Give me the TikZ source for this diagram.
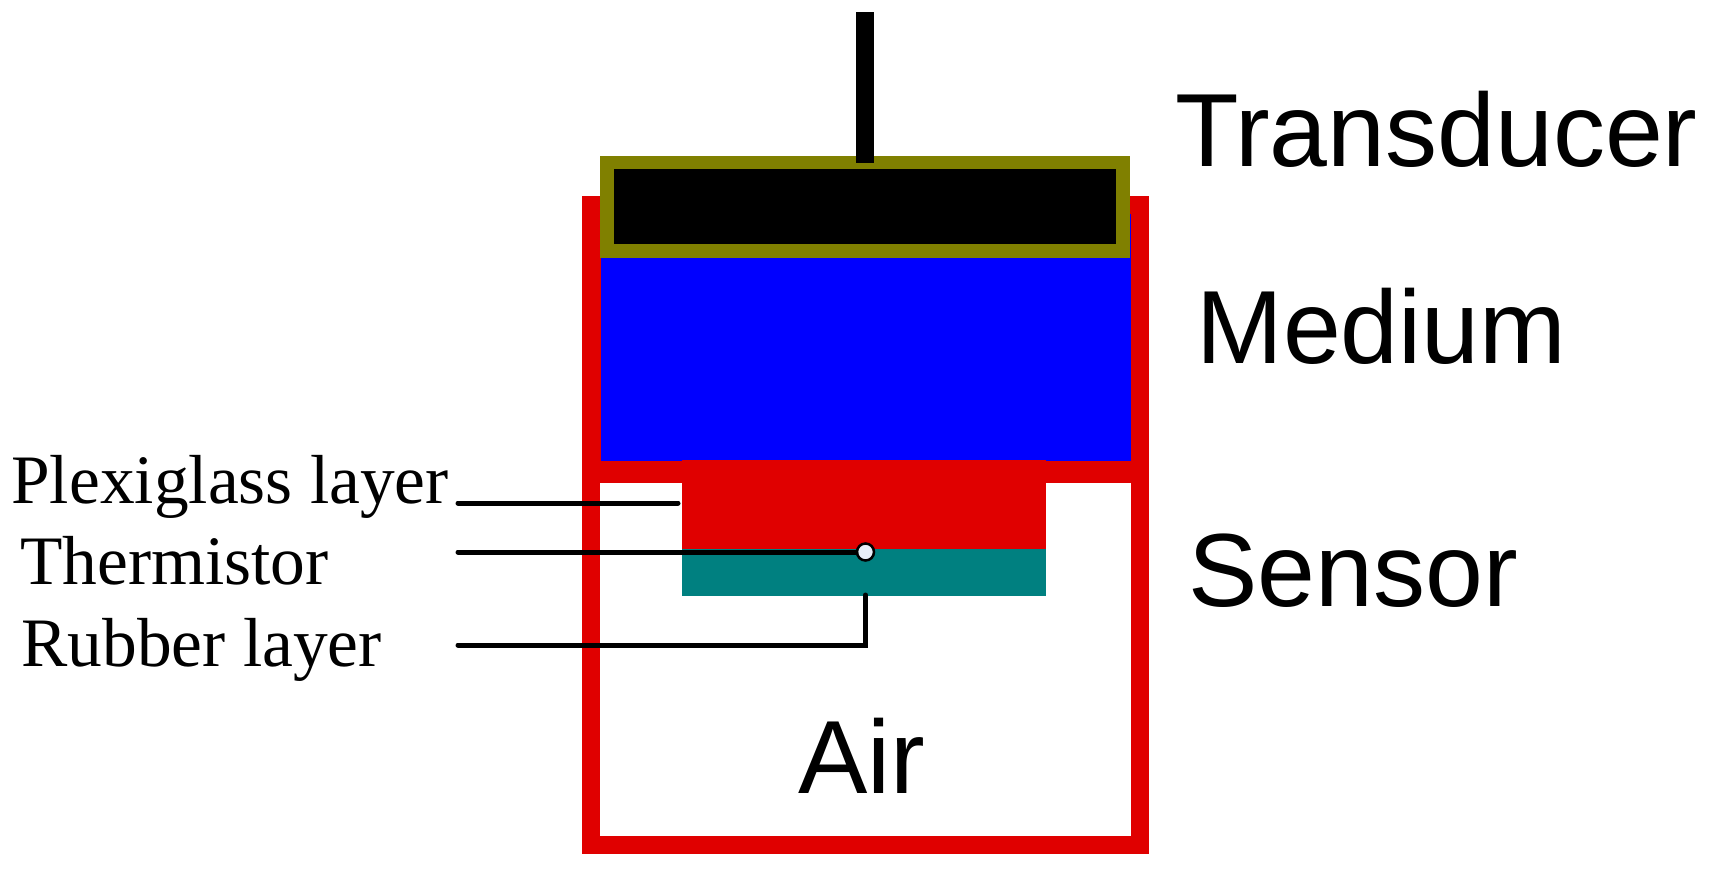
\documentclass[tikz,border=0pt]{standalone}
\usepackage{fontspec}
\setmainfont{Liberation Serif}
\setsansfont{Liberation Sans}
\usetikzlibrary{positioning}
\definecolor{sensor-red}{RGB}{224,0,0}
\definecolor{housing-olive}{RGB}{128,128,0}
\definecolor{medium-blue}{RGB}{0,0,255}
\definecolor{rubber-teal}{RGB}{0,128,128}
\definecolor{dot-white}{RGB}{232,238,248}
\tikzset{
	biglabel/.style={anchor=base west, inner sep=0pt, font=\sffamily\fontsize{59.2}{60}\selectfont},
	smalllabel/.style={anchor=base west, inner sep=0pt, font=\rmfamily\fontsize{39.5}{40}\selectfont},
	leader/.style={line width=0.1cm, line cap=round, black}
}
\begin{document}
\begin{tikzpicture}[x=0.02cm, y=-0.02cm]
	\useasboundingbox (0,0) rectangle (1715,895);
	% casing
	\fill[sensor-red] (582,196) rectangle (1149,854);
	\fill[white] (600,483) rectangle (1131,836);
	\fill[medium-blue] (601,214) rectangle (1131,461);
	% sensor stack
	\fill[sensor-red] (682,460) rectangle (1046,549);
	\fill[rubber-teal] (682,549) rectangle (1046,596);
	% transducer
	\fill[housing-olive] (600,156) rectangle (1130,258);
	\fill[black] (614,169) rectangle (1116,244);
	\fill[black] (856,12) rectangle (874,163);
	% labels
	\node[biglabel] (transducer) at (1175,167) {Transducer};
	\node[biglabel] (medium) at (1196,363) {Medium};
	\node[biglabel] (sensor) at (1188,606) {Sensor};
	\node[biglabel] (air) at (798,793) {Air};
	\node[smalllabel] (plexiglass) at (11,503) {Plexiglass layer};
	\node[smalllabel] (thermistor) at (20,584) {Thermistor};
	\node[smalllabel] (rubber) at (21,666) {Rubber layer};
	% leaders
	\coordinate (plexistart) at (458,503);
	\coordinate (plexiend) at (678,503);
	\coordinate (thermstart) at (458,552);
	\coordinate (rubberstart) at (458,645);
	\coordinate (rubberend) at (865.5,595);
	\node[circle, draw=black, line width=0.05cm, fill=dot-white, inner sep=0pt, minimum size=0.34cm] (therm) at (865.5,552) {};
	\draw[leader] (plexistart) -- (plexiend);
	\draw[leader] (thermstart) -- (therm);
	\draw[leader] (rubberstart) -| (rubberend);
\end{tikzpicture}
\end{document}
